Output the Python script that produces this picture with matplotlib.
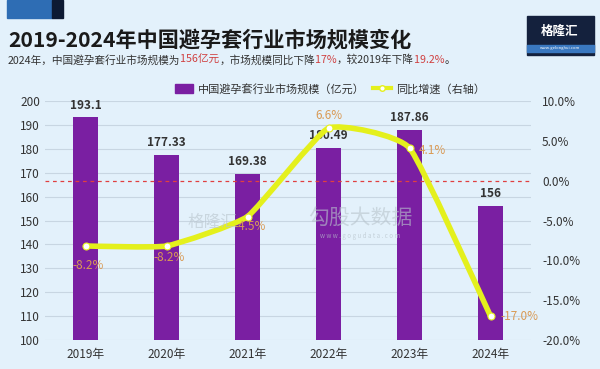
import matplotlib.pyplot as plt
from matplotlib.patches import Rectangle, Patch
from matplotlib.lines import Line2D
from matplotlib.path import Path
from matplotlib.patches import PathPatch

plt.rcParams['font.family'] = ['Noto Sans CJK SC', 'DejaVu Sans']

# 数据
years = ['2019年', '2020年', '2021年', '2022年', '2023年', '2024年']
market_size = [193.1, 177.33, 169.38, 180.49, 187.86, 156]
growth = [-8.2, -8.2, -4.5, 6.6, 4.1, -17.0]
size_labels = ['193.1', '177.33', '169.38', '180.49', '187.86', '156']
growth_labels = ['-8.2%', '-8.2%', '-4.5%', '6.6%', '4.1%', '-17.0%']

bg = '#e3f1fb'
purple = '#7a1fa2'
yellow = '#e4f01c'
orange = '#d99a55'

fig = plt.figure(figsize=(6, 3.69), dpi=100, facecolor=bg)

# 左上角色块
fig.patches.append(Rectangle((7 / 600, 1 - 18 / 369), 45 / 600, 18 / 369,
                             transform=fig.transFigure, color='#2e6db4', zorder=0))
fig.patches.append(Rectangle((52 / 600, 1 - 18 / 369), 11 / 600, 18 / 369,
                             transform=fig.transFigure, color='#0d1a33', zorder=0))

# 右上角 logo
fig.patches.append(Rectangle((527 / 600, 1 - 55 / 369), 67 / 600, 39 / 369,
                             transform=fig.transFigure, color='#14213d', zorder=0))
fig.patches.append(Rectangle((527 / 600, 1 - 52 / 369), 67 / 600, 7 / 369,
                             transform=fig.transFigure, color='#3a78c0', zorder=1))
fig.text(560 / 600, 1 - 31 / 369, '格隆汇', color='white', fontsize=9,
         fontweight='bold', ha='center', va='center')
fig.text(560 / 600, 1 - 48.5 / 369, 'www.gelonghui.com', color='white',
         fontsize=3, ha='center', va='center')

# 标题
fig.text(8 / 600, 1 - 40 / 369, '2019-2024年中国避孕套行业市场规模变化',
         fontsize=15.2, fontweight='bold', color='#1a1a1a', va='center')
sub_parts = [('2024年，中国避孕套行业市场规模为', '#333333'), ('156亿元', '#d04040'),
             ('，市场规模同比下降', '#333333'), ('17%', '#d04040'),
             ('，较2019年下降', '#333333'), ('19.2%', '#d04040'), ('。', '#333333')]
x = 8 / 600
renderer = fig.canvas.get_renderer()
for s, c in sub_parts:
    t = fig.text(x, 1 - 60 / 369, s, fontsize=7.7, color=c, va='center')
    bb = t.get_window_extent(renderer=renderer)
    x += bb.width / fig.bbox.width

ax = fig.add_axes([45 / 600, 1 - 340 / 369, 486 / 600, 239 / 369])
ax.set_facecolor(bg)
xs = list(range(len(years)))
ax.bar(xs, market_size, width=0.31, color=purple, zorder=2)
ax.set_ylim(100, 200)
ax.set_xlim(-0.5, len(years) - 0.5)
ax.set_yticks(range(100, 201, 10))
ax.grid(axis='y', color='#c8d6e2', linewidth=0.8, zorder=0)
ax.set_xticks(xs)
ax.set_xticklabels(years)
ax.tick_params(axis='both', length=0, labelsize=8.5, colors='#333333')
ax.tick_params(axis='x', pad=6)
for sp in ax.spines.values():
    sp.set_visible(False)
for i, v in enumerate(market_size):
    ax.text(i, v + 2.5, size_labels[i], ha='center', va='bottom',
            fontsize=8.5, fontweight='bold', color='#333333')

# 水印
fig.text(212 / 600, 1 - 222 / 369, '格隆汇', fontsize=12, color='#b8c4cc',
         alpha=0.6, ha='center', va='center', zorder=1)
fig.text(360 / 600, 1 - 218 / 369, '勾股大数据', fontsize=15, color='#b8c4cc',
         alpha=0.6, ha='center', va='center', zorder=1)
fig.text(360 / 600, 1 - 236 / 369, 'w w w . g o g u d a t a . c o m', fontsize=4.5,
         color='#b8c4cc', alpha=0.7, ha='center', va='center', zorder=1)

ax2 = ax.twinx()
ax2.set_ylim(-20, 10)
ax2.set_yticks(range(-20, 11, 5))
ax2.set_yticklabels([f'{v:.1f}%' for v in range(-20, 11, 5)])
ax2.tick_params(axis='y', length=0, labelsize=8.5, colors='#333333', pad=8)
for sp in ax2.spines.values():
    sp.set_visible(False)
ax2.axhline(0, color='#e04040', linestyle=(0, (3, 3)), linewidth=0.9, zorder=3)

# 轻微平滑的折线
pts = list(zip(xs, growth))
verts = [pts[0]]
codes = [Path.MOVETO]
k = 0.07
for i in range(len(pts) - 1):
    p0 = pts[max(i - 1, 0)]
    p1 = pts[i]
    p2 = pts[i + 1]
    p3 = pts[min(i + 2, len(pts) - 1)]
    c1 = (p1[0] + (p2[0] - p0[0]) * k, p1[1] + (p2[1] - p0[1]) * k)
    c2 = (p2[0] - (p3[0] - p1[0]) * k, p2[1] - (p3[1] - p1[1]) * k)
    verts += [c1, c2, p2]
    codes += [Path.CURVE4] * 3
ax2.add_patch(PathPatch(Path(verts, codes), facecolor='none', edgecolor=yellow,
                        linewidth=4, capstyle='round', joinstyle='round', zorder=4))
ax2.plot(xs, growth, linestyle='none', marker='o', markersize=5,
         markerfacecolor='white', markeredgecolor=yellow, markeredgewidth=0.8, zorder=5)

offsets = [(0.03, -2.4, 'center'), (0.03, -1.4, 'center'), (0.03, -1.3, 'center'),
           (0, 1.6, 'center'), (0.12, -0.3, 'left'), (0.12, 0, 'left')]
for i, g in enumerate(growth):
    dx, dy, ha = offsets[i]
    ax2.text(i + dx, g + dy, growth_labels[i], ha=ha, va='center',
             fontsize=8.5, color=orange, zorder=6)

# 图例
handles = [Patch(color=purple),
           Line2D([0], [0], color=yellow, linewidth=3, marker='o', markersize=4,
                  markerfacecolor='white', markeredgecolor=yellow)]
fig.legend(handles, ['中国避孕套行业市场规模（亿元）', '同比增速（右轴）'],
           loc='center', bbox_to_anchor=(330 / 600, 1 - 89 / 369), ncol=2,
           frameon=False, fontsize=8, handlelength=1.6, handleheight=0.8,
           columnspacing=0.8, handletextpad=0.4, labelcolor='#333333')

fig.savefig('out.png', dpi=100, facecolor=bg)
